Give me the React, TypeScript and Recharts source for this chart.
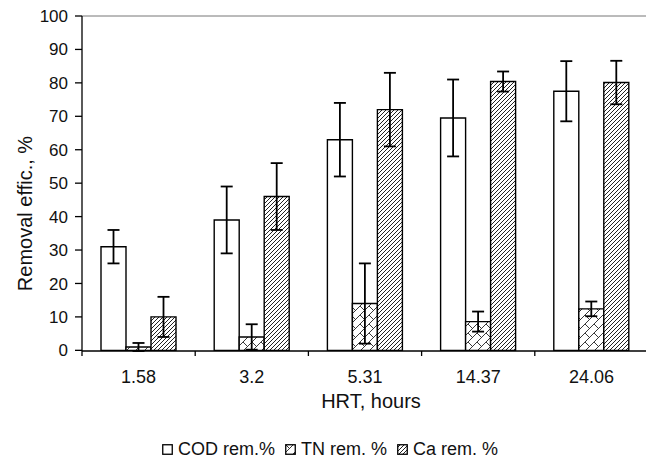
import React from 'react';
import { BarChart, Bar, XAxis, YAxis, ErrorBar, Legend, ReferenceLine } from 'recharts';

const categories = ['1.58', '3.2', '5.31', '14.37', '24.06'];
const codValues = [31, 39, 63, 69.5, 77.5];
const codErrors = [5, 10, 11, 11.5, 9];
const tnValues = [1, 4, 14, 8.6, 12.4];
const tnErrors = [1.2, 3.8, 12, 3, 2.2];
const caValues = [10, 46, 72, 80.4, 80.1];
const caErrors = [6, 10, 11, 3, 6.5];
const yTicks = [0, 10, 20, 30, 40, 50, 60, 70, 80, 90, 100];
const seriesNames = ['COD rem.%', 'TN rem. %', 'Ca rem. %'];

const data = categories.map((c, i) => ({
  hrt: c,
  cod: codValues[i],
  codErr: codErrors[i],
  tn: tnValues[i],
  tnErr: tnErrors[i],
  ca: caValues[i],
  caErr: caErrors[i],
}));

const CHART_W = 648;
const CHART_H = 460;
const Y_AXIS_W = 82;
const PLOT_W = CHART_W - Y_AXIS_W;
const BAND = PLOT_W / categories.length;
const FONT = '"Liberation Sans", Arial, sans-serif';

const XTick = (props: any) => {
  const { x, y, payload, index } = props;
  return (
    <g>
      <line x1={x - BAND / 2} y1={y} x2={x - BAND / 2} y2={y + 5} stroke="#000" strokeWidth={1.3} />
      {index === categories.length - 1 && (
        <line x1={x + BAND / 2} y1={y} x2={x + BAND / 2} y2={y + 5} stroke="#000" strokeWidth={1.3} />
      )}
      <text x={x} y={y + 32} textAnchor="middle" fontSize={18} fontFamily={FONT} fill="#111">
        {payload.value}
      </text>
    </g>
  );
};

const XLabel = (props: any) => {
  const { viewBox } = props;
  const cx = viewBox.x + viewBox.width / 2 + 6;
  return (
    <text x={cx} y={viewBox.y + 57} textAnchor="middle" fontSize={20} fontFamily={FONT} fill="#111">
      HRT, hours
    </text>
  );
};

const YLabel = (props: any) => {
  const { viewBox } = props;
  const cy = viewBox.y + viewBox.height / 2 + 30;
  const cx = 25;
  return (
    <text
      x={cx}
      y={cy}
      transform={`rotate(-90 ${cx} ${cy})`}
      textAnchor="middle"
      dominantBaseline="central"
      fontSize={20}
      fontFamily={FONT}
      fill="#111"
    >
      Removal effic., %
    </text>
  );
};

const fills = ['#fff', 'url(#tnPat)', 'url(#caPat)'];

const LegendContent = () => (
  <div
    style={{
      height: 30,
      display: 'flex',
      alignItems: 'center',
      paddingLeft: 162,
      paddingTop: 8,
      boxSizing: 'border-box',
      fontFamily: FONT,
      fontSize: 18,
      color: '#111',
      whiteSpace: 'nowrap',
    }}
  >
    {seriesNames.map((n, i) => (
      <span key={n} style={{ display: 'inline-flex', alignItems: 'center', marginRight: 10 }}>
        <svg width={11} height={11} style={{ marginRight: 5 }}>
          <rect x={0.75} y={0.75} width={9.5} height={9.5} fill={fills[i]} stroke="#000" strokeWidth={1.3} />
        </svg>
        {n}
      </span>
    ))}
  </div>
);

export default function App() {
  return (
    <div
      style={{
        position: 'fixed',
        left: 0,
        top: 0,
        width: 646,
        height: 460,
        overflow: 'hidden',
        background: '#fff',
      }}
    >
      <BarChart
        width={CHART_W}
        height={CHART_H}
        data={data}
        margin={{ top: 16, right: 0, left: 0, bottom: 0 }}
        barGap={0}
        barSize={25}
      >
        <defs>
          <pattern id="caPat" patternUnits="userSpaceOnUse" width={4} height={4}>
            <rect width={4} height={4} fill="#fff" />
            <path d="M-1,1 l2,-2 M0,4 l4,-4 M3,5 l2,-2" stroke="#222" strokeWidth={1} />
          </pattern>
          <pattern id="tnPat" patternUnits="userSpaceOnUse" width={9} height={9}>
            <rect width={9} height={9} fill="#fff" />
            <path d="M-1,10 L10,-1 M0,0 L4.5,4.5" stroke="#222" strokeWidth={0.9} />
          </pattern>
        </defs>
        <XAxis
          dataKey="hrt"
          height={79}
          tickLine={false}
          tickSize={0}
          tickMargin={0}
          axisLine={{ stroke: '#000', strokeWidth: 1.3 }}
          tick={<XTick />}
          interval={0}
          label={<XLabel />}
        />
        <YAxis
          width={Y_AXIS_W}
          domain={[0, 100]}
          ticks={yTicks}
          interval={0}
          tickSize={7}
          tickMargin={7}
          axisLine={{ stroke: '#000', strokeWidth: 1.3 }}
          tickLine={{ stroke: '#000', strokeWidth: 1.3 }}
          tick={{ fontSize: 17, fontFamily: FONT, fill: '#111' }}
          label={<YLabel />}
        />
        <ReferenceLine y={100} stroke="#777" strokeWidth={1} />
        <Legend verticalAlign="bottom" align="left" content={<LegendContent />} />
        <Bar dataKey="cod" name={seriesNames[0]} fill="#fff" stroke="#000" strokeWidth={1.4} isAnimationActive={false}>
          <ErrorBar dataKey="codErr" width={6} stroke="#000" strokeWidth={1.8} isAnimationActive={false} />
        </Bar>
        <Bar dataKey="tn" name={seriesNames[1]} fill="url(#tnPat)" stroke="#000" strokeWidth={1.4} isAnimationActive={false}>
          <ErrorBar dataKey="tnErr" width={6} stroke="#000" strokeWidth={1.8} isAnimationActive={false} />
        </Bar>
        <Bar dataKey="ca" name={seriesNames[2]} fill="url(#caPat)" stroke="#000" strokeWidth={1.4} isAnimationActive={false}>
          <ErrorBar dataKey="caErr" width={6} stroke="#000" strokeWidth={1.8} isAnimationActive={false} />
        </Bar>
      </BarChart>
    </div>
  );
}
